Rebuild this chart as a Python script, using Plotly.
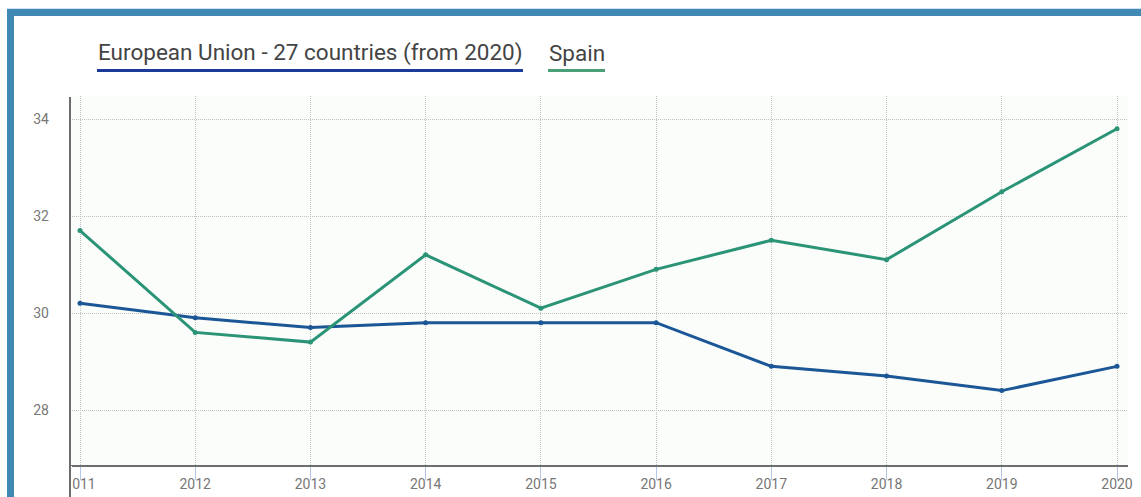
import plotly.graph_objects as go

years = [2011, 2012, 2013, 2014, 2015, 2016, 2017, 2018, 2019, 2020]
eu_values = [30.2, 29.9, 29.7, 29.8, 29.8, 29.8, 28.9, 28.7, 28.4, 28.9]
spain_values = [31.7, 29.6, 29.4, 31.2, 30.1, 30.9, 31.5, 31.1, 32.5, 33.8]
series_names = ["European Union - 27 countries (from 2020)", "Spain"]
y_ticks = [28, 30, 32, 34]

W, H = 1141, 497
L, R, T, B = 70, 1128, 96, 465
EU_COLOR = "#1b5796"
ES_COLOR = "#2b9477"

def px(x):
    return (x - L) / (R - L)

def py(y):
    return (B - y) / (B - T)

fig = go.Figure()
fig.add_trace(go.Scatter(x=years, y=eu_values, name=series_names[0], mode="lines+markers",
                         line=dict(color=EU_COLOR, width=3), marker=dict(size=5, color=EU_COLOR)))
fig.add_trace(go.Scatter(x=years, y=spain_values, name=series_names[1], mode="lines+markers",
                         line=dict(color=ES_COLOR, width=3), marker=dict(size=5, color=ES_COLOR)))

shapes = [
    # white mask clipping the first x label
    dict(type="rect", xref="paper", yref="paper", x0=px(15), x1=px(72), y0=py(H), y1=py(466),
         fillcolor="white", line=dict(width=0), layer="above"),
    # y axis line extending to the bottom
    dict(type="line", xref="paper", yref="paper", x0=px(70), x1=px(70), y0=py(H + 5), y1=py(97),
         line=dict(color="#6d6d6d", width=2), layer="above"),
    # frame (top and left borders)
    dict(type="rect", xref="paper", yref="paper", x0=px(7), x1=px(W + 20), y0=py(9), y1=py(16),
         fillcolor="#4189b5", line=dict(width=0), layer="above"),
    dict(type="rect", xref="paper", yref="paper", x0=px(7), x1=px(14), y0=py(H + 5), y1=py(9),
         fillcolor="#4189b5", line=dict(width=0), layer="above"),
    dict(type="line", xref="paper", yref="paper", x0=px(7), x1=px(W + 20), y0=py(8.5), y1=py(8.5),
         line=dict(color="#cfe3ee", width=1), layer="above"),
    # legend underlines
    dict(type="line", xref="paper", yref="paper", x0=px(97), x1=px(523), y0=py(70.5), y1=py(70.5),
         line=dict(color="#1a3c98", width=3), layer="above"),
    dict(type="line", xref="paper", yref="paper", x0=px(548), x1=px(605), y0=py(70.5), y1=py(70.5),
         line=dict(color="#4a9e78", width=3), layer="above"),
]

annotations = [
    dict(text=series_names[0], xref="paper", yref="paper", x=px(96), y=py(53), xanchor="left",
         yanchor="middle", showarrow=False, font=dict(family="Roboto", size=22.5, color="#444444")),
    dict(text=series_names[1], xref="paper", yref="paper", x=px(547), y=py(53), xanchor="left",
         yanchor="middle", showarrow=False, font=dict(family="Roboto", size=22.5, color="#444444")),
]

fig.update_layout(
    width=W, height=H,
    margin=dict(l=L, r=W - R, t=T, b=H - B, pad=0, autoexpand=False),
    paper_bgcolor="white",
    plot_bgcolor="#fbfdfb",
    showlegend=False,
    shapes=shapes,
    annotations=annotations,
    font=dict(family="Roboto", size=14, color="#777777"),
)
fig.update_xaxes(
    range=[2011 - 10 / 115.2, 2020 + 11 / 115.2],
    tickmode="array", tickvals=years, ticktext=[str(y) for y in years],
    showgrid=True, gridcolor="#c2c2c2", griddash="1px,1px", gridwidth=1,
    showline=True, linecolor="#6d6d6d", linewidth=2,
    ticks="outside", ticklen=13, tickcolor="#b8c6e6", tickwidth=1,
    ticklabelstandoff=-8,
    tickfont=dict(family="Roboto", size=14, color="#777777"),
    zeroline=False, automargin=False,
)
fig.update_yaxes(
    range=[28 - 55 / 48.5, 34 + 23 / 48.5],
    tickmode="array", tickvals=y_ticks,
    showgrid=True, gridcolor="#c2c2c2", griddash="1px,1px", gridwidth=1,
    showline=False, ticks="", ticklabelstandoff=20,
    tickfont=dict(family="Roboto", size=14, color="#777777"),
    zeroline=False, automargin=False,
)

fig.write_html("out.html", config=dict(displayModeBar=False),
               post_script="document.body.style.margin='0';document.body.style.overflow='hidden';")
